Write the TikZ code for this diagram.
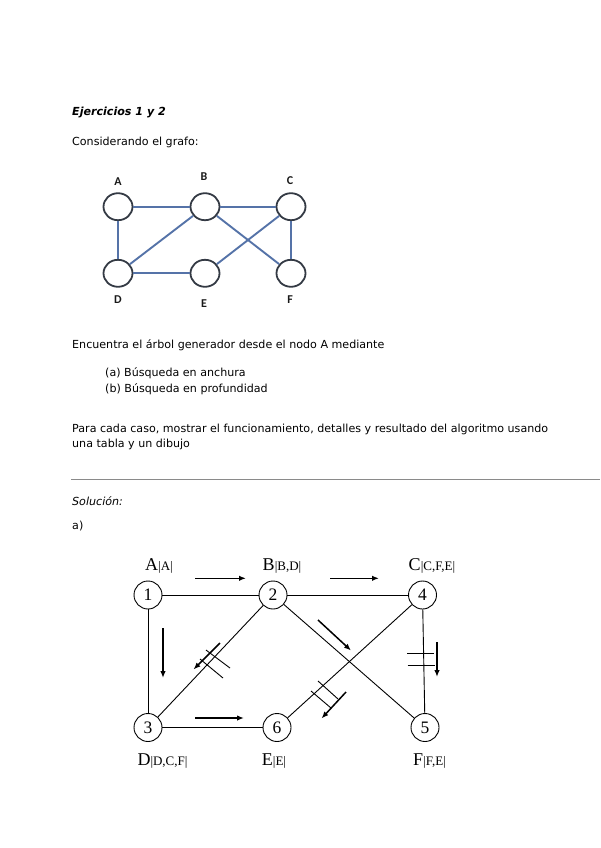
\documentclass[tikz,border=0pt]{standalone}
\usepackage{fontspec}
\setmainfont{Liberation Serif}
\newfontfamily\tahfont{DejaVu Sans}
\newfontfamily\calfont{Carlito}
\usetikzlibrary{arrows.meta,shapes.geometric}
\definecolor{edgeblue}{HTML}{5573A8}
\definecolor{ringdark}{HTML}{343A44}
\definecolor{rulegray}{HTML}{8A8A8A}
\newcommand\lblsub[1]{{\fontsize{13}{13}\selectfont #1}}
\begin{document}
\begin{tikzpicture}[x=1pt,y=-1pt,
  txt/.style={anchor=base west,inner sep=0pt,font=\tahfont\fontsize{11.1}{12}\selectfont},
  tnode/.style={ellipse,draw=ringdark,line width=1.8pt,minimum width=29pt,minimum height=27pt,inner sep=0pt},
  tlbl/.style={inner sep=0pt,font=\calfont\bfseries\fontsize{12}{13}\selectfont,text=black!90},
  tedge/.style={draw=edgeblue,line width=1.9pt},
  gnode/.style={circle,draw,line width=0.9pt,minimum size=28pt,inner sep=0pt,font=\fontsize{17.5}{18}\selectfont},
  glbl/.style={anchor=base,inner sep=0pt,font=\fontsize{18}{18}\selectfont},
  gedge/.style={draw,line width=0.9pt},
  cutmark/.style={draw,line width=0.9pt},
  dirarrow/.style={draw,line width=1.5pt,-{Latex[length=7pt,width=5.5pt]}}]
\useasboundingbox (0,0) rectangle (600,848);

% ---------- texts ----------
\node[txt,font=\tahfont\bfseries\itshape\fontsize{11.1}{12}\selectfont] (title) at (72,116) {Ejercicios 1 y 2};
\node[txt] (t1) at (72,145) {Considerando el grafo:};
\node[txt] (t2) at (72,348.5) {Encuentra el árbol generador desde el nodo A mediante};
\node[txt] (t3) at (105,376) {(a) Búsqueda en anchura};
\node[txt] (t4) at (105,392) {(b) Búsqueda en profundidad};
\node[txt] (t5) at (72,432) {Para cada caso, mostrar el funcionamiento, detalles y resultado del algoritmo usando};
\node[txt] (t6) at (72,447) {una tabla y un dibujo};
\coordinate (r1) at (71,479.3);
\coordinate (r2) at (600,479.3);
\draw[rulegray,line width=1.6pt] (r1) -- (r2);
\node[txt,font=\tahfont\itshape\fontsize{11.1}{12}\selectfont] (sol) at (72,505) {Solución:};
\node[txt] (pa) at (72,529) {a)};

% ---------- top graph ----------
\node[tnode] (A) at (118,206.7) {};
\node[tnode] (B) at (205,206.7) {};
\node[tnode] (C) at (291,206.7) {};
\node[tnode] (D) at (118,273.3) {};
\node[tnode] (E) at (205,273.3) {};
\node[tnode] (F) at (291,273.3) {};
\node[tlbl] (lA) at (118,181.5) {A};
\node[tlbl] (lB) at (204,176.7) {B};
\node[tlbl] (lC) at (290,180.5) {C};
\node[tlbl] (lD) at (118,300) {D};
\node[tlbl] (lE) at (204,303.3) {E};
\node[tlbl] (lF) at (290,300) {F};
\draw[tedge] (A) -- (B);
\draw[tedge] (B) -- (C);
\draw[tedge] (A) -- (D);
\draw[tedge] (D) -- (E);
\draw[tedge] (B) -- (D);
\draw[tedge] (B) -- (F);
\draw[tedge] (C) -- (E);
\draw[tedge] (C) -- (F);

% ---------- bottom graph ----------
\node[gnode] (n1) at (148,595) {1};
\node[gnode] (n2) at (273,595) {2};
\node[gnode] (n4) at (422.5,595) {4};
\node[gnode] (n3) at (148,727.5) {3};
\node[gnode] (n6) at (277,727.5) {6};
\node[gnode] (n5) at (425,727.5) {5};

\node[glbl] (la) at (159,570) {A\lblsub{|A|}};
\node[glbl] (lb) at (282,570) {B\lblsub{|B,D|}};
\node[glbl] (lc) at (432,570) {C\lblsub{|C,F,E|}};
\node[glbl] (ld) at (162.5,765) {D\lblsub{|D,C,F|}};
\node[glbl] (le) at (274,765) {E\lblsub{|E|}};
\node[glbl] (lf) at (429.5,765) {F\lblsub{|F,E|}};

\draw[gedge] (n1) -- (n2);
\draw[gedge] (n2) -- (n4);
\draw[gedge] (n1) -- (n3);
\draw[gedge] (n3) -- (n6);
\draw[gedge] (n2) -- (n3);
\draw[gedge] (n2) -- (n5);
\draw[gedge] (n4) -- (n6);
\draw[gedge] (n4) -- (n5);

% direction arrows
\coordinate (a1s) at (195,578.3); \coordinate (a1e) at (246,578.3);
\coordinate (a2s) at (330,578.3); \coordinate (a2e) at (379,578.3);
\coordinate (a3s) at (163,628); \coordinate (a3e) at (163,678);
\coordinate (a4s) at (195,718); \coordinate (a4e) at (244,718);
\coordinate (a5s) at (318,620); \coordinate (a5e) at (351,650.5);
\coordinate (a6s) at (437,642); \coordinate (a6e) at (437,677);
\coordinate (a7s) at (220,643); \coordinate (a7e) at (193.5,669.5);
\coordinate (a8s) at (346,692); \coordinate (a8e) at (321.5,718.5);
\draw[dirarrow] (a1s) -- (a1e);
\draw[dirarrow] (a2s) -- (a2e);
\draw[dirarrow] (a3s) -- (a3e);
\draw[dirarrow] (a4s) -- (a4e);
\draw[dirarrow] (a5s) -- (a5e);
\draw[dirarrow] (a6s) -- (a6e);
\draw[dirarrow] (a7s) -- (a7e);
\draw[dirarrow] (a8s) -- (a8e);

% cut marks
\coordinate (h1s) at (206,650); \coordinate (h1e) at (230,668);
\coordinate (h2s) at (200,659); \coordinate (h2e) at (223,678);
\coordinate (h3s) at (318,681); \coordinate (h3e) at (338,699);
\coordinate (h4s) at (311,691); \coordinate (h4e) at (331,708);
\coordinate (h5s) at (407,653.5); \coordinate (h5e) at (433.5,653.5);
\coordinate (h6s) at (407.5,665.5); \coordinate (h6e) at (435,665.5);
\draw[cutmark] (h1s) -- (h1e);
\draw[cutmark] (h2s) -- (h2e);
\draw[cutmark] (h3s) -- (h3e);
\draw[cutmark] (h4s) -- (h4e);
\draw[cutmark] (h5s) -- (h5e);
\draw[cutmark] (h6s) -- (h6e);
\end{tikzpicture}
\end{document}
